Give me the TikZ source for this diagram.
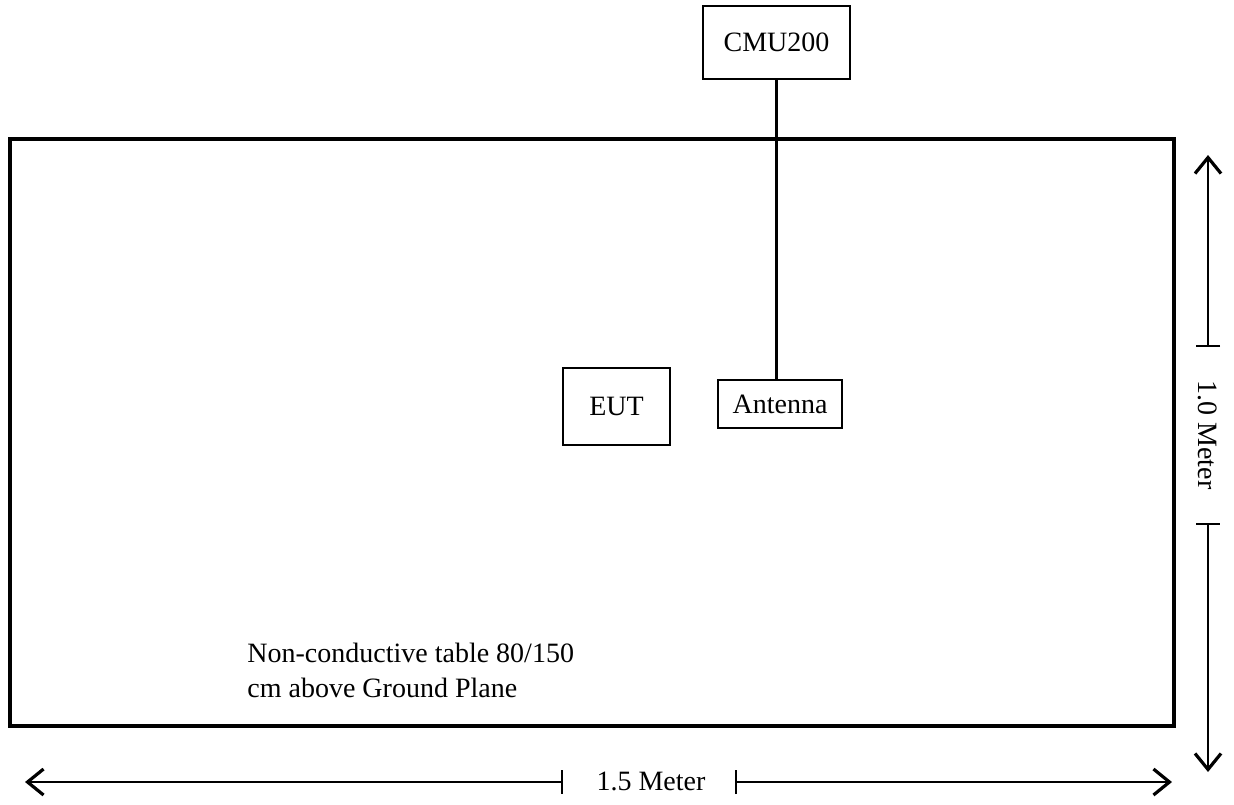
\documentclass[tikz,border=0pt]{standalone}
\usepackage{fontspec}
\setmainfont{Liberation Serif}
\usetikzlibrary{positioning, arrows.meta}
\newcommand{\lblfont}{\fontsize{14}{17.5}\selectfont}

\begin{document}
\begin{tikzpicture}[x=0.5pt,y=-0.5pt,
  box/.style={draw, line width=1.1pt, inner sep=0pt, font=\lblfont},
  dimline/.style={line width=1.1pt, {Bar[width=12pt]}-{Straight Barb[length=8pt,width=13pt,line width=1.6pt]}},
  lbl/.style={inner sep=0pt, font=\lblfont}]
\useasboundingbox (0,0) rectangle (1234,804);
% Table
\draw[line width=1.6pt] (10,139) rectangle (1174,726);
\node[lbl, anchor=base west, align=left] (table) at (247,697) {Non-conductive table 80/150\\cm above Ground Plane};
% Equipment
\node[box, minimum width=73.5pt, minimum height=36.5pt] (cmu) at (776.5,42.5) {CMU200};
\node[box, minimum width=62pt, minimum height=24pt] (ant) at (780,404) {Antenna};
\node[box, minimum width=53.5pt, minimum height=38.5pt] (eut) at (616.5,406.5) {EUT};
\draw[line width=1.1pt] (cmu.south) -- (cmu.south |- ant.north);
% Dimensions
\node[lbl, anchor=base] (len) at (651,790) {1.5 Meter};
\coordinate (lenL) at (563,782);
\coordinate (lenR) at (735,782);
\draw[dimline] (lenL) -- (25,782);
\draw[dimline] (lenR) -- (1172,782);
\node[lbl, rotate=-90] (wid) at (1208,435) {1.0 Meter};
\coordinate (widT) at (1208,347);
\coordinate (widB) at (1208,523);
\draw[dimline] (widT) -- (1208,155);
\draw[dimline] (widB) -- (1208,772);
\end{tikzpicture}
\end{document}
